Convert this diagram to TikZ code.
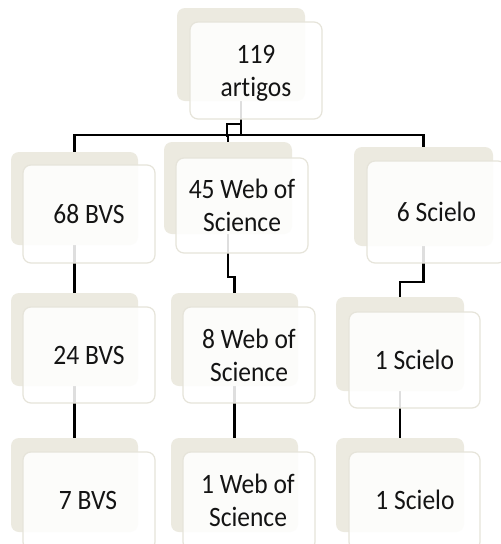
\documentclass[tikz,border=0pt]{standalone}
\usepackage{fontspec}
\usepackage{graphicx}
\setmainfont{Carlito}[Ligatures={NoCommon}]
\pgfdeclarelayer{bg}
\pgfdeclarelayer{conn}
\pgfdeclarelayer{back}
\pgfsetlayers{bg,conn,back,main}
\definecolor{tan}{HTML}{ECEAE0}
\definecolor{edge}{HTML}{E6E4DA}
\definecolor{ink}{HTML}{141414}
\newcommand{\boxtxt}[1]{\raisebox{-3pt}[\height][\depth]{\scalebox{1}[1.1]{\fontsize{25.5}{30}\selectfont\begin{tabular}{@{}c@{}}#1\end{tabular}}}}
\begin{document}
\begin{tikzpicture}[x=1pt,y=-1pt,
  backbox/.style={fill=tan,rounded corners=8pt,inner sep=0pt},
  frontbox/.style={draw=edge,line width=1.2pt,fill=white,fill opacity=0.87,text opacity=1,
     rounded corners=8pt,inner sep=0pt,align=center,text=ink},
  lbl/.style={text=ink,inner sep=0pt},
  conn/.style={draw=black,line width=2.5pt}]
\useasboundingbox (0,0) rectangle (501,544);
\begin{pgfonlayer}{bg}
\fill[white] (0,0) rectangle (501,544);
\end{pgfonlayer}
% back rectangles
\begin{pgfonlayer}{back}
\node[backbox,minimum width=128pt,minimum height=93pt] (btop) at (241,54.5) {};
\node[backbox,minimum width=127pt,minimum height=93pt] (b68) at (74.5,198.5) {};
\node[backbox,minimum width=128pt,minimum height=92pt] (b45) at (228,188) {};
\node[backbox,minimum width=139pt,minimum height=99pt] (b6) at (423.5,196.5) {};
\node[backbox,minimum width=127pt,minimum height=93pt] (b24) at (74.5,339.5) {};
\node[backbox,minimum width=127pt,minimum height=93pt] (b8) at (234.5,339.5) {};
\node[backbox,minimum width=128pt,minimum height=94pt] (b1s) at (400,344) {};
\node[backbox,minimum width=127pt,minimum height=94pt] (b7) at (74.5,485) {};
\node[backbox,minimum width=127pt,minimum height=94pt] (b1w) at (234.5,485) {};
\node[backbox,minimum width=128pt,minimum height=94pt] (b1s2) at (400,485) {};
\end{pgfonlayer}
% front boxes
\node[frontbox,minimum width=132pt,minimum height=97pt] (ftop) at (256,70.5) {\boxtxt{119\\artigos}};
\node[frontbox,minimum width=132pt,minimum height=98pt] (f68) at (89,214) {\boxtxt{68 BVS}};
\node[frontbox,minimum width=132pt,minimum height=95pt] (f45) at (242,205.5) {\boxtxt{45 Web of\\Science}};
\node[frontbox,minimum width=139pt,minimum height=102pt] (f6) at (436.5,212) {\boxtxt{6 Scielo}};
\node[frontbox,minimum width=132pt,minimum height=96pt] (f24) at (89,355) {\boxtxt{24 BVS}};
\node[frontbox,minimum width=132pt,minimum height=96pt] (f8) at (249,355) {\boxtxt{8 Web of\\Science}};
\node[frontbox,minimum width=131pt,minimum height=96pt] (f1s) at (414.5,360) {\boxtxt{1 Scielo}};
\node[frontbox,minimum width=132pt,minimum height=98pt] (f7) at (89,501) {};
\node[frontbox,minimum width=132pt,minimum height=98pt] (f1w) at (249,501) {};
\node[frontbox,minimum width=131pt,minimum height=98pt] (f1s2) at (414.5,501) {};
\node[lbl] (t7) at (88,500) {\boxtxt{7 BVS}};
\node[lbl] (t1w) at (248,500) {\boxtxt{1 Web of\\Science}};
\node[lbl] (t1s2) at (415,500) {\boxtxt{1 Scielo}};
% connectors
\begin{pgfonlayer}{conn}
\draw[conn] (btop.center) -- (btop.center |- 0,135);
\draw[conn] (btop.center |- 0,124) -- (227,124) -- (227,137);
\draw[conn] (b68.north |- 0,135) -- (b6.north |- 0,135);
\draw[conn] (b68.north |- 0,134) -- (b68.center);
\draw[conn] (b45.north |- 0,134) -- (b45.center);
\draw[conn] (b6.north |- 0,134) -- (b6.center);
\draw[conn] (b68.center) -- (b24.center);
\draw[conn] (b24.center) -- (b7.center);
\draw[conn] (b45.center) -- (b45.center |- 0,277) -- (b8.center |- 0,277) -- (b8.center);
\draw[conn] (b8.center) -- (b1w.center);
\draw[conn] (b6.center) -- (b6.center |- 0,282) -- (b1s.center |- 0,282) -- (b1s.center);
\draw[conn] (b1s.center) -- (b1s2.center);
\end{pgfonlayer}
\end{tikzpicture}
\end{document}
